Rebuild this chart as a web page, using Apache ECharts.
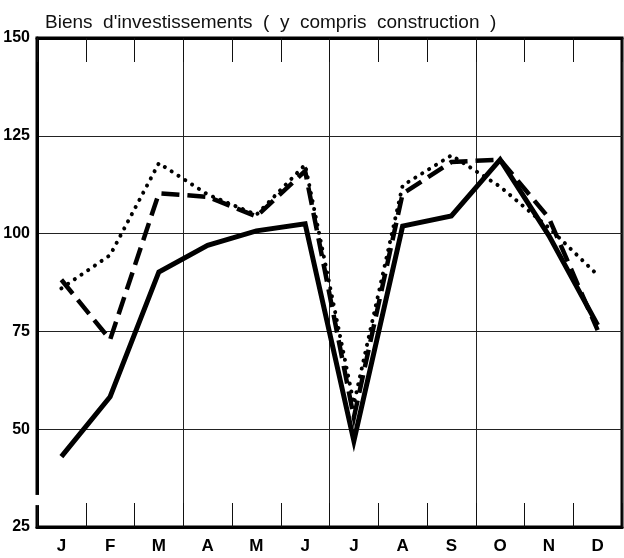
<!DOCTYPE html>
<html>
<head>
<meta charset="utf-8">
<script src="https://cdn.jsdelivr.net/npm/echarts@6/dist/echarts.min.js"></script>
<style>
  html, body { margin: 0; padding: 0; background: #fff; }
  #chart { width: 624px; height: 558px; }
</style>
</head>
<body>
<div id="chart"></div>
<script>
// mois
const months = ['J', 'F', 'M', 'A', 'M', 'J', 'J', 'A', 'S', 'O', 'N', 'D'];
const yTicks = [25, 50, 75, 100, 125, 150];

// valeurs
const solidValues = [43, 58.3, 90.2, 97, 100.7, 102.5, 47, 101.9, 104.5, 118.9, 99.5, 76.6];
const dashedValues = [88.2, 72.9, 110.3, 109.4, 104.4, 116, 53, 110.2, 118.3, 118.9, 104, 75.3];
const dottedValues = [86, 94.5, 118, 110, 104.8, 117.6, 56.5, 112.3, 120, 112, 101.5, 89.4];

const font = "'Liberation Sans Narrow', 'Liberation Sans', sans-serif";

const chart = echarts.init(document.getElementById('chart'));

const options = {
  animation: false,
  backgroundColor: '#fff',
  title: {
    text: "Biens  d'investissements  (  y  compris  construction  )",
    left: 40,
    top: 8,
    textStyle: { fontFamily: font, fontSize: 19, fontWeight: 'normal', color: '#111' }
  },
  grid: {
    left: 37,
    right: 2,
    top: 38,
    bottom: 31,
    outerBoundsMode: 'none',
    containLabel: false,
    show: true,
    borderColor: '#000',
    borderWidth: 3
  },
  xAxis: [
    {
      type: 'category',
      data: months,
      boundaryGap: true,
      position: 'bottom',
      axisLine: { show: true, lineStyle: { color: '#000', width: 3 } },
      axisTick: { show: true, inside: true, length: 24, interval: 0, lineStyle: { color: '#111', width: 1 } },
      axisLabel: { color: '#000', fontFamily: font, fontSize: 17, fontWeight: 'bold', margin: 11, interval: 0 },
      splitLine: {
        show: true,
        interval: (idx) => idx % 3 === 0,
        lineStyle: { color: '#222', width: 1 }
      }
    },
    {
      type: 'category',
      data: months,
      boundaryGap: true,
      position: 'top',
      axisLine: { show: true, lineStyle: { color: '#000', width: 3 } },
      axisTick: { show: true, inside: true, length: 24, interval: 0, lineStyle: { color: '#111', width: 1 } },
      axisLabel: { show: false },
      splitLine: { show: false }
    }
  ],
  yAxis: {
    type: 'value',
    min: yTicks[0],
    max: yTicks[yTicks.length - 1],
    interval: 25,
    axisLine: { show: true, lineStyle: { color: '#000', width: 3 } },
    axisTick: { show: false },
    axisLabel: { color: '#000', fontFamily: font, fontSize: 16, fontWeight: 'bold', margin: 7 },
    splitLine: { lineStyle: { color: '#222', width: 1 } }
  },
  series: [
    {
      type: 'line',
      data: dottedValues,
      symbol: 'none',
      lineStyle: { color: '#000', width: 4, type: [0.1, 8], cap: 'round', join: 'round' }
    },
    {
      type: 'line',
      data: dashedValues,
      symbol: 'none',
      lineStyle: { color: '#000', width: 4.5, type: [18, 8], cap: 'butt', join: 'miter' }
    },
    {
      type: 'line',
      data: solidValues,
      symbol: 'none',
      lineStyle: { color: '#000', width: 5, type: 'solid', join: 'miter', miterLimit: 10 }
    }
  ]
};

chart.setOption(options);

// coupure de l'axe vertical près du bas
const gapTop = chart.convertToPixel({ yAxisIndex: 0 }, 33.2);
const gapBottom = chart.convertToPixel({ yAxisIndex: 0 }, 30.6);
const axisX = chart.convertToPixel({ xAxisIndex: 0 }, 0) - 24;
chart.setOption({
  graphic: [{
    type: 'rect',
    shape: { x: axisX - 4, y: gapTop, width: 8, height: gapBottom - gapTop },
    style: { fill: '#fff' },
    z: 100
  }]
});
</script>
</body>
</html>
